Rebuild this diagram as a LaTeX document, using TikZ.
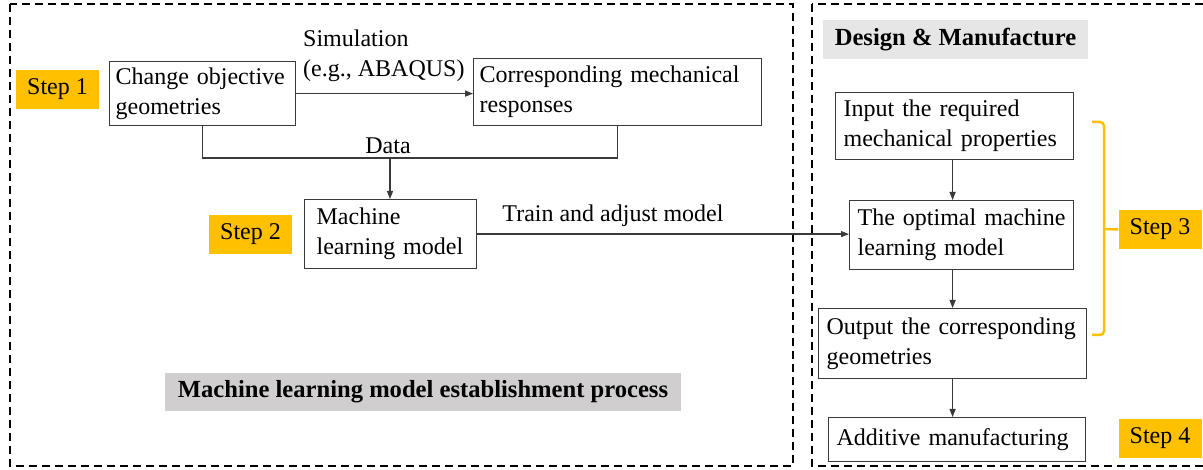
\documentclass[tikz,border=0pt]{standalone}
\usepackage{fontspec}
\setmainfont{Liberation Serif}
\usetikzlibrary{arrows.meta}
\definecolor{stepyellow}{HTML}{FFC000}
\definecolor{titlegray}{HTML}{D0CECE}
\definecolor{headgray}{HTML}{E7E6E6}
\definecolor{boxline}{HTML}{3A3A3A}

\begin{document}
\begin{tikzpicture}[x=1pt,y=-1pt]
    \useasboundingbox (0,0) rectangle (1203,470);
    \tikzstyle{every node}=[font=\fontsize{24}{30}\selectfont, text=black]
    \tikzstyle{frame}=[black, line width=1.8pt, dash pattern=on 8pt off 5pt]
    \tikzstyle{box}=[draw=boxline, line width=1.2pt, anchor=north west, align=left, inner xsep=6pt, inner ysep=0pt]
    \tikzstyle{stepbox}=[fill=stepyellow, minimum width=83pt, minimum height=39pt, inner sep=0pt]
    \tikzstyle{title}=[minimum height=39pt, inner sep=0pt, font=\fontsize{24.6}{30}\selectfont\bfseries]
    \tikzstyle{conn}=[boxline, line width=1.2pt]
    \tikzstyle{arr}=[conn, -{Triangle[length=8pt,width=6pt]}]
    \tikzstyle{brace}=[stepyellow, line width=2.5pt, rounded corners=4pt]

    % dashed frames
    \draw[frame] (10,4) rectangle (793,466);
    \draw[frame] (812,4) rectangle (1215,466);

    % model establishment
    \node[box, minimum width=186pt, minimum height=64pt, text width=174pt] (chg) at (109,61) {Change objective\\geometries};
    \node[box, minimum width=288pt, minimum height=67pt, text width=276pt] (resp) at (473,58) {Corresponding mechanical\\responses};
    \node[box, minimum width=172pt, minimum height=69pt, text width=148pt, inner xsep=12pt] (ml) at (304,199) {Machine\\learning model};
    \node[anchor=west, align=left, inner sep=0pt] (sim) at (303,56) {Simulation\\(e.g., ABAQUS)};
    \node[inner sep=0pt] (data) at (388,146) {Data};
    \node[inner sep=0pt] (train) at (613,216) {Train and adjust model};
    \coordinate (dataj) at (390,158);

    \node[stepbox] (st1) at (57.5,89.5) {Step 1};
    \node[stepbox] (st2) at (250.5,234.5) {Step 2};

    \node[title, fill=titlegray, minimum width=516pt, minimum height=38pt] (mlproc) at (423,392) {Machine learning model establishment process};

    % design and manufacture
    \node[title, fill=headgray, minimum width=265pt] (dm) at (955.5,39.5) {Design \& Manufacture};
    \node[box, minimum width=238pt, minimum height=67pt, text width=222pt, inner xsep=8pt] (inp) at (835,92) {Input the required\\mechanical properties};
    \node[box, minimum width=224pt, minimum height=69pt, text width=208pt, inner xsep=8pt] (opt) at (849,200) {The optimal machine\\learning model};
    \node[box, minimum width=268pt, minimum height=70pt, text width=252pt, inner xsep=8pt] (out) at (818,308) {Output the corresponding\\geometries};
    \node[box, minimum width=257pt, minimum height=44pt, text width=241pt, inner xsep=8pt] (am) at (828,417) {Additive manufacturing};

    \node[stepbox] (st3) at (1160,229.5) {Step 3};
    \node[stepbox] (st4) at (1160,438.5) {Step 4};

    \draw[arr] (chg.east) -- (chg.east -| resp.west);
    \draw[conn] (chg.south) |- (dataj) -| (resp.south);
    \draw[arr] (dataj) -- (dataj |- ml.north);
    \draw[arr] (ml.east) -- (ml.east -| opt.west);

    \draw[arr] (inp.south -| out.north) -- (opt.north -| out.north);
    \draw[arr] (opt.south -| out.north) -- (out.north);
    \draw[arr] (out.south) -- (am.north -| out.south);

    \draw[brace] (1092,122) -- (1104,122) -- (1104,335) -- (1092,335);
    \draw[brace] (1104,229) -- (st3.west);
\end{tikzpicture}
\end{document}
